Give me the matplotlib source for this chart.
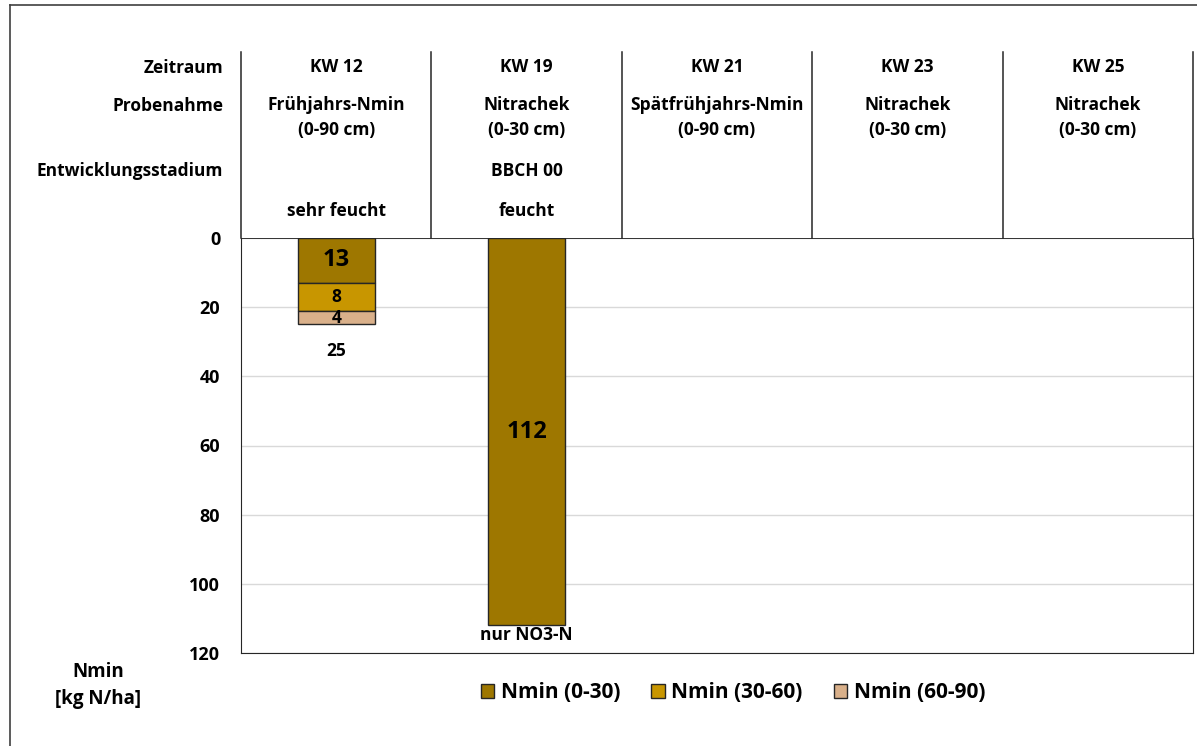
import matplotlib
matplotlib.use("Agg")
import matplotlib.pyplot as plt
import numpy as np
from matplotlib.patches import Patch
from matplotlib.lines import Line2D

# ---- data ----
zeitraum = ["KW 12", "KW 19", "KW 21", "KW 23", "KW 25"]
probenahme_1 = ["Frühjahrs-Nmin", "Nitrachek", "Spätfrühjahrs-Nmin", "Nitrachek", "Nitrachek"]
probenahme_2 = ["(0-90 cm)", "(0-30 cm)", "(0-90 cm)", "(0-30 cm)", "(0-30 cm)"]
stadium = ["", "BBCH 00", "", "", ""]
feuchte = ["sehr feucht", "feucht", "", "", ""]
nmin_0_30 = [13, 112, np.nan, np.nan, np.nan]
nmin_30_60 = [8, np.nan, np.nan, np.nan, np.nan]
nmin_60_90 = [4, np.nan, np.nan, np.nan, np.nan]
totals = ["25", "nur NO3-N", "", "", ""]
series_names = ["Nmin (0-30)", "Nmin (30-60)", "Nmin (60-90)"]
colors = ["#9E7700", "#C89600", "#D9B08A"]
yticks = [0, 20, 40, 60, 80, 100, 120]

plt.rcParams['font.family'] = ['Open Sans', 'DejaVu Sans']
plt.rcParams['font.weight'] = 'bold'
FS = 12.5

W, H = 1197, 746
fig = plt.figure(figsize=(W / 100, H / 100), dpi=100)
fig.patch.set_facecolor("white")

# outer frame (partially cropped)
fig.add_artist(Line2D([10 / W, 10 / W], [0, 1 - 5 / H], transform=fig.transFigure, color="#404040", lw=1.2))
fig.add_artist(Line2D([10 / W, 1], [1 - 5 / H, 1 - 5 / H], transform=fig.transFigure, color="#404040", lw=1.2))

left, right, top, bottom = 241, 1193, 238, 653
ax = fig.add_axes([left / W, 1 - bottom / H, (right - left) / W, (bottom - top) / H])

x = np.arange(len(zeitraum))
a0 = np.array(nmin_0_30, float)
a1 = np.array(nmin_30_60, float)
a2 = np.array(nmin_60_90, float)
s0 = np.nan_to_num(a0)
s1 = np.nan_to_num(a1)
s2 = np.nan_to_num(a2)
bw = 0.405
for vals, bot, c in [(a0, np.zeros(len(x)), colors[0]), (a1, s0, colors[1]), (a2, s0 + s1, colors[2])]:
    m = ~np.isnan(vals)
    ax.bar(x[m], vals[m], bw, bottom=bot[m], color=c, edgecolor="#262626", lw=1, zorder=3)

ax.set_xlim(-0.5, len(x) - 0.5)
ax.set_ylim(120, 0)
ax.set_yticks(yticks)
ax.set_yticklabels([str(t) for t in yticks], fontsize=13, fontweight="bold")
ax.tick_params(axis="y", length=0, pad=15)
ax.set_xticks([])
ax.grid(axis="y", color="#D9D9D9", lw=1, zorder=0)
for sp in ["left", "bottom", "right"]:
    ax.spines[sp].set_color("#262626")
ax.spines["top"].set_visible(False)
ax.axhline(0, color="#262626", lw=1.3, zorder=4)

ppu = (bottom - top) / 120.0
def yd(py):
    return (py - top) / ppu

# value labels
for i in range(len(x)):
    if s0[i] > 0:
        fs = 17 if s0[i] >= 10 else FS
        ax.text(x[i], s0[i] / 2, f"{int(s0[i])}", ha="center", va="center", fontsize=fs, fontweight="bold", zorder=5)
    if s1[i] > 0:
        ax.text(x[i], s0[i] + s1[i] / 2, f"{int(s1[i])}", ha="center", va="center", fontsize=FS, fontweight="bold", zorder=5)
    if s2[i] > 0:
        ax.text(x[i], s0[i] + s1[i] + s2[i] / 2, f"{int(s2[i])}", ha="center", va="center", fontsize=FS, fontweight="bold", zorder=5)
    tot = s0[i] + s1[i] + s2[i]
    if totals[i]:
        off = 7.8 if s1[i] + s2[i] > 0 else 2.7
        ax.text(x[i], tot + off, totals[i], ha="center", va="center", fontsize=FS, fontweight="bold", zorder=5)

# header table
head_top = yd(52)
for xb in np.arange(-0.5, len(x), 1.0):
    ax.plot([xb, xb], [0, head_top], color="#262626", lw=1.1, clip_on=False, zorder=4)

rows = [("Zeitraum", 68), ("Probenahme", 106), ("Entwicklungsstadium", 171)]
xlab = -0.5 - 18 / ((right - left) / len(x))
for lab, py in rows:
    ax.text(xlab, yd(py), lab, ha="right", va="center", fontsize=FS, fontweight="bold", clip_on=False)

for i in range(len(x)):
    ax.text(x[i], yd(67), zeitraum[i], ha="center", va="center", fontsize=FS, fontweight="bold")
    ax.text(x[i], yd(105), probenahme_1[i], ha="center", va="center", fontsize=FS, fontweight="bold")
    ax.text(x[i], yd(130), probenahme_2[i], ha="center", va="center", fontsize=FS, fontweight="bold")
    if stadium[i]:
        ax.text(x[i], yd(171), stadium[i], ha="center", va="center", fontsize=FS, fontweight="bold")
    if feuchte[i]:
        ax.text(x[i], yd(211), feuchte[i], ha="center", va="center", fontsize=FS, fontweight="bold")

# y axis label
fig.text(98 / W, 1 - 672 / H, "Nmin", ha="center", va="center", fontsize=13.5, fontweight="bold")
fig.text(98 / W, 1 - 699 / H, "[kg N/ha]", ha="center", va="center", fontsize=13.5, fontweight="bold")

# legend
handles = [Patch(facecolor=c, edgecolor="#262626", lw=1) for c in colors]
fig.legend(handles, series_names, loc="center", bbox_to_anchor=(733 / W, 1 - 693 / H), ncol=3,
           frameon=False, prop={"size": 15, "weight": "bold"}, handlelength=0.65, handleheight=0.65,
           handletextpad=0.3, columnspacing=1.5)

fig.savefig("out.png", dpi=100, facecolor="white")
